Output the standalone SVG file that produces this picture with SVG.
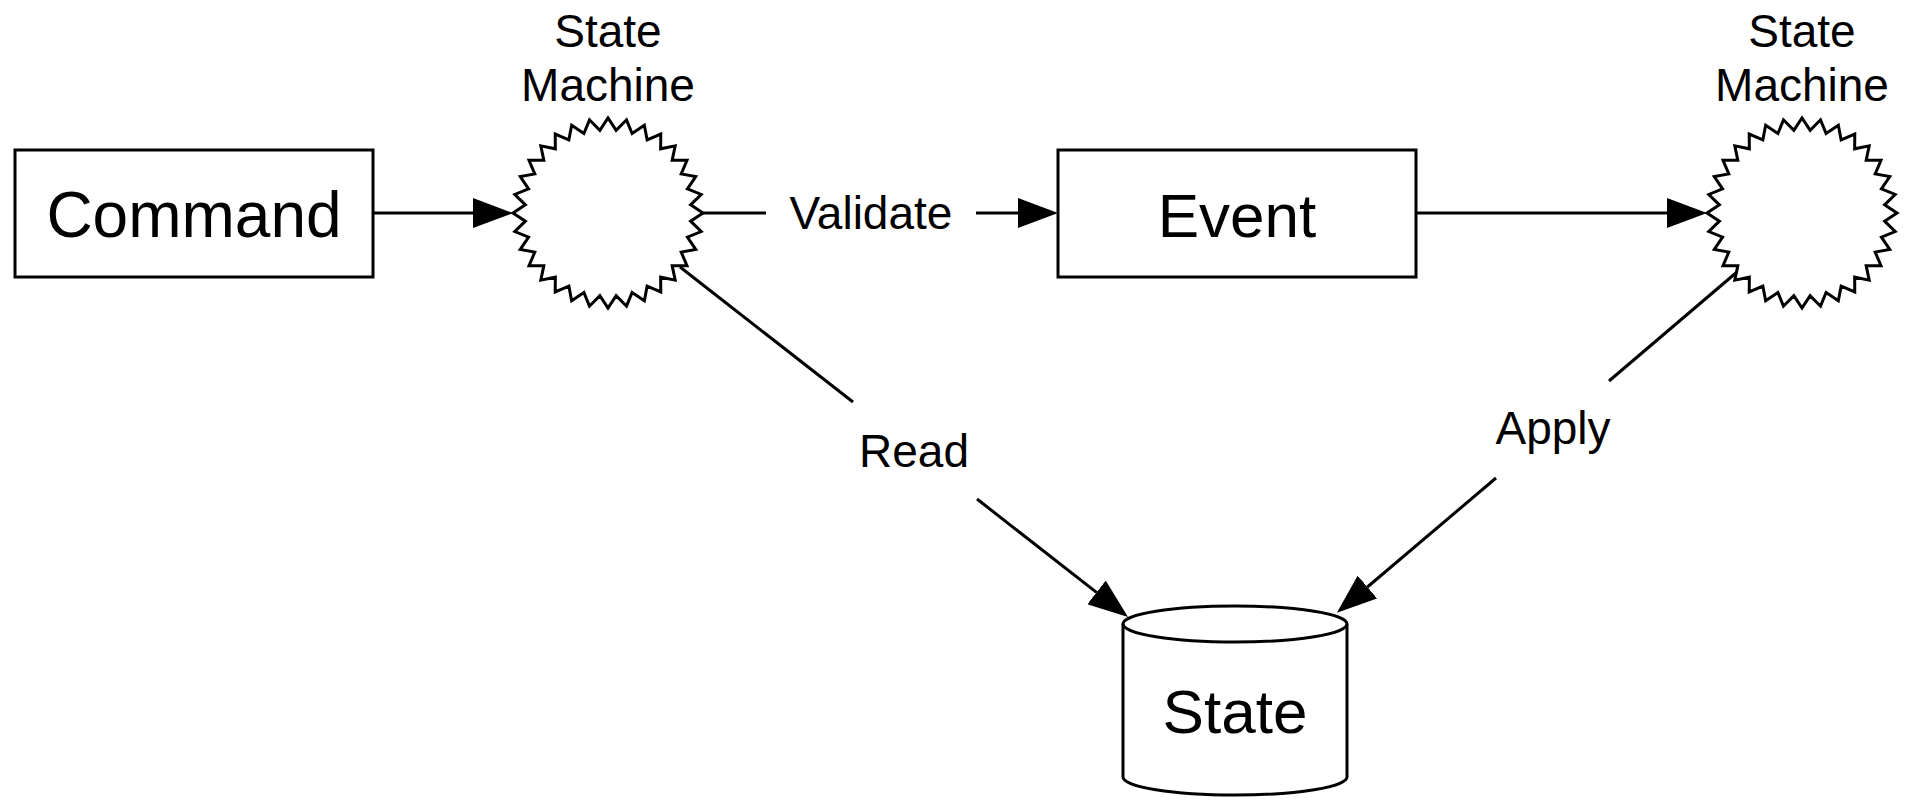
<svg xmlns="http://www.w3.org/2000/svg" xmlns:xlink="http://www.w3.org/1999/xlink" width="1920" height="811" viewBox="0 0 1920 811">
<style>
  .shape { fill: #ffffff; stroke: #000000; stroke-width: 3; stroke-linejoin: miter; }
  .edge { fill: none; stroke: #000000; stroke-width: 3; }
  .lbl { font-family: "Liberation Sans", Arial, Helvetica, sans-serif; fill: #000000; text-anchor: middle; }
  .big { font-size: 63px; }
  .small { font-size: 46px; }
</style>
<defs>
  <marker id="arrow" viewBox="0 0 40 30" refX="0" refY="15" markerWidth="40" markerHeight="30" markerUnits="userSpaceOnUse" orient="auto">
    <path d="M0,0 L40,15 L0,30 Z" fill="#000000"/>
  </marker>
  <polygon id="star" points="95,0 82.60,8.14 93.18,18.53 79.43,24.09 87.77,36.35 73.20,39.13 78.99,52.78 64.16,52.65 67.18,67.18 52.65,64.16 52.78,78.99 39.13,73.20 36.35,87.77 24.09,79.43 18.53,93.18 8.14,82.60 0,95 -8.14,82.60 -18.53,93.18 -24.09,79.43 -36.35,87.77 -39.13,73.20 -52.78,78.99 -52.65,64.16 -67.18,67.18 -64.16,52.65 -78.99,52.78 -73.20,39.13 -87.77,36.35 -79.43,24.09 -93.18,18.53 -82.60,8.14 -95,0 -82.60,-8.14 -93.18,-18.53 -79.43,-24.09 -87.77,-36.35 -73.20,-39.13 -78.99,-52.78 -64.16,-52.65 -67.18,-67.18 -52.65,-64.16 -52.78,-78.99 -39.13,-73.20 -36.35,-87.77 -24.09,-79.43 -18.53,-93.18 -8.14,-82.60 0,-95 8.14,-82.60 18.53,-93.18 24.09,-79.43 36.35,-87.77 39.13,-73.20 52.78,-78.99 52.65,-64.16 67.18,-67.18 64.16,-52.65 78.99,-52.78 73.20,-39.13 87.77,-36.35 79.43,-24.09 93.18,-18.53 82.60,-8.14"/>
</defs>
<rect x="0" y="0" width="1920" height="811" fill="#ffffff"/>

<g id="connectors">
  <line class="edge" x1="373" y1="213" x2="473" y2="213" marker-end="url(#arrow)"/>
  <line class="edge" x1="703" y1="213" x2="766" y2="213"/>
  <line class="edge" x1="976" y1="213" x2="1018" y2="213" marker-end="url(#arrow)"/>
  <text class="lbl small" x="871" y="229">Validate</text>
  <line class="edge" x1="1416" y1="213" x2="1667" y2="213" marker-end="url(#arrow)"/>
  <line class="edge" x1="680" y1="267" x2="853" y2="402"/>
  <line class="edge" x1="977" y1="499" x2="1096.5" y2="592.4" marker-end="url(#arrow)"/>
  <text class="lbl small" x="914" y="467">Read</text>
  <line class="edge" x1="1737" y1="272" x2="1609" y2="381"/>
  <line class="edge" x1="1496" y1="478" x2="1367.4" y2="587" marker-end="url(#arrow)"/>
  <text class="lbl small" x="1553" y="444">Apply</text>
</g>

<g id="command">
  <rect class="shape" x="15" y="150" width="358" height="127"/>
  <text class="lbl" x="194" y="237" font-size="64">Command</text>
</g>

<g id="state-machine-1">
  <use xlink:href="#star" href="#star" class="shape" transform="translate(608,213)"/>
  <text class="lbl small" x="608" y="47">State</text>
  <text class="lbl small" x="608" y="101">Machine</text>
</g>

<g id="event">
  <rect class="shape" x="1058" y="150" width="358" height="127"/>
  <text class="lbl" x="1237" y="237" font-size="62">Event</text>
</g>

<g id="state-machine-2">
  <use xlink:href="#star" href="#star" class="shape" transform="translate(1802,213)"/>
  <text class="lbl small" x="1802" y="47">State</text>
  <text class="lbl small" x="1802" y="101">Machine</text>
</g>

<g id="state">
  <path class="shape" d="M1123,624 A112,18 0 0 1 1347,624 L1347,777 A112,18 0 0 1 1123,777 Z"/>
  <path class="edge" d="M1123,624 A112,18 0 0 0 1347,624"/>
  <text class="lbl" x="1235" y="733" font-size="62">State</text>
</g>
</svg>
